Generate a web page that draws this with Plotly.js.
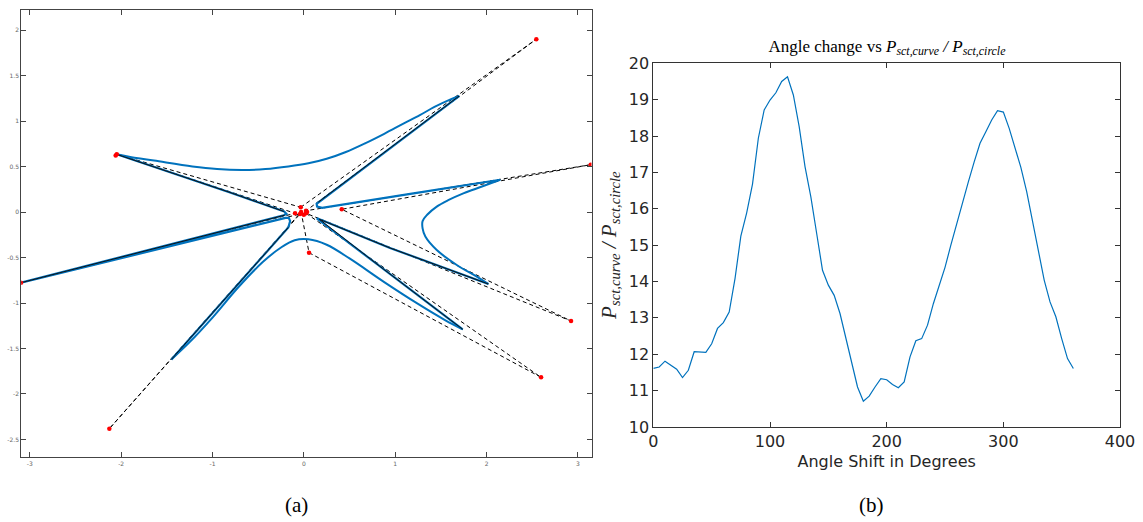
<!DOCTYPE html>
<html>
<head>
<meta charset="utf-8">
<script src="https://cdn.plot.ly/plotly-3.0.1.min.js"></script>
<style>
  html, body { margin: 0; padding: 0; background: #ffffff; }
  #chart { width: 1143px; height: 522px; }
</style>
</head>
<body>
<div id="chart"></div>
<script>
// ---------- Panel (a): curve pieces, control polygon, control points ----------
// curved pieces of the blue curve
const arcX = [-2.048, -1.90, -1.64, -1.22, -0.95, -0.67, -0.42, -0.17, 0.05, 0.25, 0.46, 0.67, 0.88, 1.095, 1.27, 1.43, 1.60, 1.70];
const arcY = [0.634, 0.605, 0.565, 0.50, 0.472, 0.462, 0.472, 0.50, 0.535, 0.585, 0.66, 0.755, 0.86, 0.974, 1.065, 1.155, 1.235, 1.275];
const cCurveX = [2.15, 1.95, 1.746, 1.58, 1.455, 1.35, 1.30, 1.30, 1.33, 1.455, 1.674, 1.893, 2.02];
const cCurveY = [0.355, 0.28, 0.205, 0.13, 0.06, -0.03, -0.10, -0.18, -0.27, -0.418, -0.582, -0.711, -0.791];
const humpX = [1.739, 1.55, 1.25, 0.88, 0.50, 0.25, 0.05, -0.10, -0.25, -0.45, -0.72, -1.0, -1.25, -1.45];
const humpY = [-1.289, -1.19, -1.01, -0.77, -0.51, -0.36, -0.30, -0.31, -0.39, -0.55, -0.83, -1.16, -1.43, -1.62];
// straight arms of the blue curve (null separates pieces)
const armsX = [1.70, 1.10, 0.50, 0.18, 0.14, 0.145, 0.20, 1.20, 2.15, null,
  2.02, 0.943, 0.20, 0.141, 0.834, 1.739, null,
  -1.45, -0.60, -0.17, -0.15, -0.165, -0.20, -3.096, -0.22, -0.19, -0.215, -0.808, -2.048];
const armsY = [1.275, 0.823, 0.371, 0.13, 0.09, 0.06, 0.045, 0.204, 0.355, null,
  -0.791, -0.395, -0.09, -0.07, -0.598, -1.289, null,
  -1.62, -0.66, -0.17, -0.10, -0.065, -0.065, -0.777, -0.035, -0.02, 0.005, 0.215, 0.634];
// thin black approximation lines drawn over the arms
const approxX = [1.70, 0.16, null, 2.02, 0.943, 0.17, 0.834, 1.739, null, -1.45, -0.17, null, -3.096, -0.21, null, -0.215, -0.808, -2.048];
const approxY = [1.275, 0.11, null, -0.791, -0.395, -0.08, -0.598, -1.289, null, -1.62, -0.17, null, -0.777, -0.035, null, 0.005, 0.215, 0.634];

const polyX = [-0.034, 2.545, 0.024, 3.14, 0.415, 2.925, 0.024, 2.597, 0.057, -0.03, -2.129, -0.042, -3.096, -0.096, -2.048, -0.034];
const polyY = [0.052, 1.90, 0.014, 0.52, 0.03, -1.198, -0.014, -1.817, -0.447, 0.0, -2.381, -0.022, -0.777, -0.014, 0.634, 0.052];

const ptsX = [2.545, 3.14, 2.925, 2.597, -2.129, -3.096, -2.048, -2.06, 0.415, 0.057, -0.034, -0.096, -0.042, -0.03, 0.024, 0.024, 0.0, 0.035];
const ptsY = [1.90, 0.52, -1.198, -1.817, -2.381, -0.777, 0.634, 0.62, 0.03, -0.447, 0.052, -0.014, -0.022, 0.0, 0.014, -0.014, -0.03, 0.0];

const aXTickVals = [-3, -2, -1, 0, 1, 2, 3];
const aXTickText = ['-3', '-2', '-1', '0', '1', '2', '3'];
const aYTickVals = [-2.5, -2, -1.5, -1, -0.5, 0, 0.5, 1, 1.5, 2];
const aYTickText = ['-2.5', '-2', '-1.5', '-1', '-0.5', '0', '0.5', '1', '1.5', '2'];

// ---------- Panel (b): angle shift vs power ratio ----------
const angleShift = [0, 5, 10, 15, 20, 25, 30, 35, 40, 45, 50, 55, 60, 65, 70, 75, 80, 85, 90, 95,
  100, 105, 110, 115, 120, 125, 130, 135, 140, 145, 150, 155, 160, 165, 170, 175, 180, 185, 190, 195,
  200, 205, 210, 215, 220, 225, 230, 235, 240, 245, 250, 255, 260, 265, 270, 275, 280, 285, 290, 295,
  300, 305, 310, 315, 320, 325, 330, 335, 340, 345, 350, 355, 360];
const powerRatio = [11.61, 11.65, 11.81, 11.70, 11.59, 11.36, 11.56, 12.07, 12.05, 12.05, 12.29, 12.71, 12.87, 13.16, 14.08, 15.25, 15.89, 16.68, 17.94, 18.72,
  18.99, 19.19, 19.50, 19.63, 19.13, 18.26, 17.16, 16.33, 15.32, 14.31, 13.90, 13.62, 13.12, 12.43, 11.83, 11.10, 10.71, 10.85, 11.10, 11.33,
  11.30, 11.17, 11.08, 11.24, 11.93, 12.37, 12.43, 12.80, 13.39, 13.88, 14.39, 15.00, 15.60, 16.15, 16.74, 17.29, 17.80, 18.12, 18.44, 18.70,
  18.66, 18.21, 17.66, 17.14, 16.47, 15.69, 14.86, 14.04, 13.44, 13.03, 12.43, 11.88, 11.61];

const bXTickVals = [0, 100, 200, 300, 400];
const bYTickVals = [10, 11, 12, 13, 14, 15, 16, 17, 18, 19, 20];

const blue = '#0072BD';
const data = [
  { x: polyX, y: polyY, xaxis: 'x', yaxis: 'y', type: 'scatter', mode: 'lines',
    line: { color: '#000000', width: 1, dash: '4px,3px' }, hoverinfo: 'skip' },
  { x: arcX, y: arcY, xaxis: 'x', yaxis: 'y', type: 'scatter', mode: 'lines',
    line: { color: blue, width: 2, shape: 'spline', smoothing: 1 }, hoverinfo: 'skip' },
  { x: cCurveX, y: cCurveY, xaxis: 'x', yaxis: 'y', type: 'scatter', mode: 'lines',
    line: { color: blue, width: 2, shape: 'spline', smoothing: 1 }, hoverinfo: 'skip' },
  { x: humpX, y: humpY, xaxis: 'x', yaxis: 'y', type: 'scatter', mode: 'lines',
    line: { color: blue, width: 2, shape: 'spline', smoothing: 1 }, hoverinfo: 'skip' },
  { x: armsX, y: armsY, xaxis: 'x', yaxis: 'y', type: 'scatter', mode: 'lines', connectgaps: false,
    line: { color: blue, width: 2.2 }, hoverinfo: 'skip' },
  { x: approxX, y: approxY, xaxis: 'x', yaxis: 'y', type: 'scatter', mode: 'lines', connectgaps: false,
    line: { color: '#111111', width: 1 }, hoverinfo: 'skip' },
  { x: ptsX, y: ptsY, xaxis: 'x', yaxis: 'y', type: 'scatter', mode: 'markers',
    marker: { color: '#ff0000', size: 4.5 }, hoverinfo: 'skip' },
  { x: angleShift, y: powerRatio, xaxis: 'x2', yaxis: 'y2', type: 'scatter', mode: 'lines',
    line: { color: blue, width: 1.2 } }
];

const axA = {
  showgrid: false, zeroline: false, showline: true, linecolor: '#444', linewidth: 1,
  mirror: 'allticks', ticks: 'inside', ticklen: 5, tickcolor: '#444', tickwidth: 1,
  tickfont: { family: 'DejaVu Sans', size: 6, color: '#666' }, tickmode: 'array'
};
const axB = {
  showgrid: false, zeroline: false, showline: true, linecolor: '#333', linewidth: 1,
  mirror: 'allticks', ticks: 'inside', ticklen: 5, tickcolor: '#333', tickwidth: 1,
  tickfont: { family: 'DejaVu Sans', size: 16, color: '#262626' }, tickmode: 'array'
};

const layout = {
  width: 1143, height: 522,
  margin: { l: 0, r: 0, t: 0, b: 0 },
  paper_bgcolor: '#ffffff', plot_bgcolor: '#ffffff',
  showlegend: false,
  title: {
    text: 'Angle change vs <i>P</i><sub><i>sct,curve</i></sub><i> / P</i><sub><i>sct,circle</i></sub>',
    x: 0.776, y: 0.912, xref: 'paper', yref: 'paper', xanchor: 'center', yanchor: 'middle',
    font: { family: 'Liberation Serif', size: 17, color: '#000000' }
  },
  xaxis: Object.assign({}, axA, { domain: [0.01855, 0.5175], range: [-3.094, 3.149], anchor: 'y',
    tickvals: aXTickVals, ticktext: aXTickText }),
  yaxis: Object.assign({}, axA, { domain: [0.1239, 0.9808], range: [-2.696, 2.22], anchor: 'x',
    tickvals: aYTickVals, ticktext: aYTickText }),
  xaxis2: Object.assign({}, axB, { domain: [0.5716, 0.9799], range: [0, 400], anchor: 'y2',
    tickvals: bXTickVals,
    title: { text: 'Angle Shift in Degrees', standoff: 5,
      font: { family: 'DejaVu Sans', size: 16, color: '#262626' } } }),
  yaxis2: Object.assign({}, axB, { domain: [0.182, 0.8787], range: [10, 20], anchor: 'x2',
    tickvals: bYTickVals,
    title: { text: '<i>P</i><sub><i>sct,curve</i></sub><i> / P</i><sub><i>sct,circle</i></sub>', standoff: 6,
      font: { family: 'Liberation Serif', size: 21, color: '#262626' } } }),
  annotations: [
    { text: '(a)', x: 0.2598, y: 0.0326, xref: 'paper', yref: 'paper', showarrow: false,
      xanchor: 'center', yanchor: 'middle', font: { family: 'Liberation Serif', size: 21, color: '#000' } },
    { text: '(b)', x: 0.7629, y: 0.0326, xref: 'paper', yref: 'paper', showarrow: false,
      xanchor: 'center', yanchor: 'middle', font: { family: 'Liberation Serif', size: 21, color: '#000' } }
  ]
};

Plotly.newPlot('chart', data, layout, { staticPlot: true, displayModeBar: false });
</script>
</body>
</html>
